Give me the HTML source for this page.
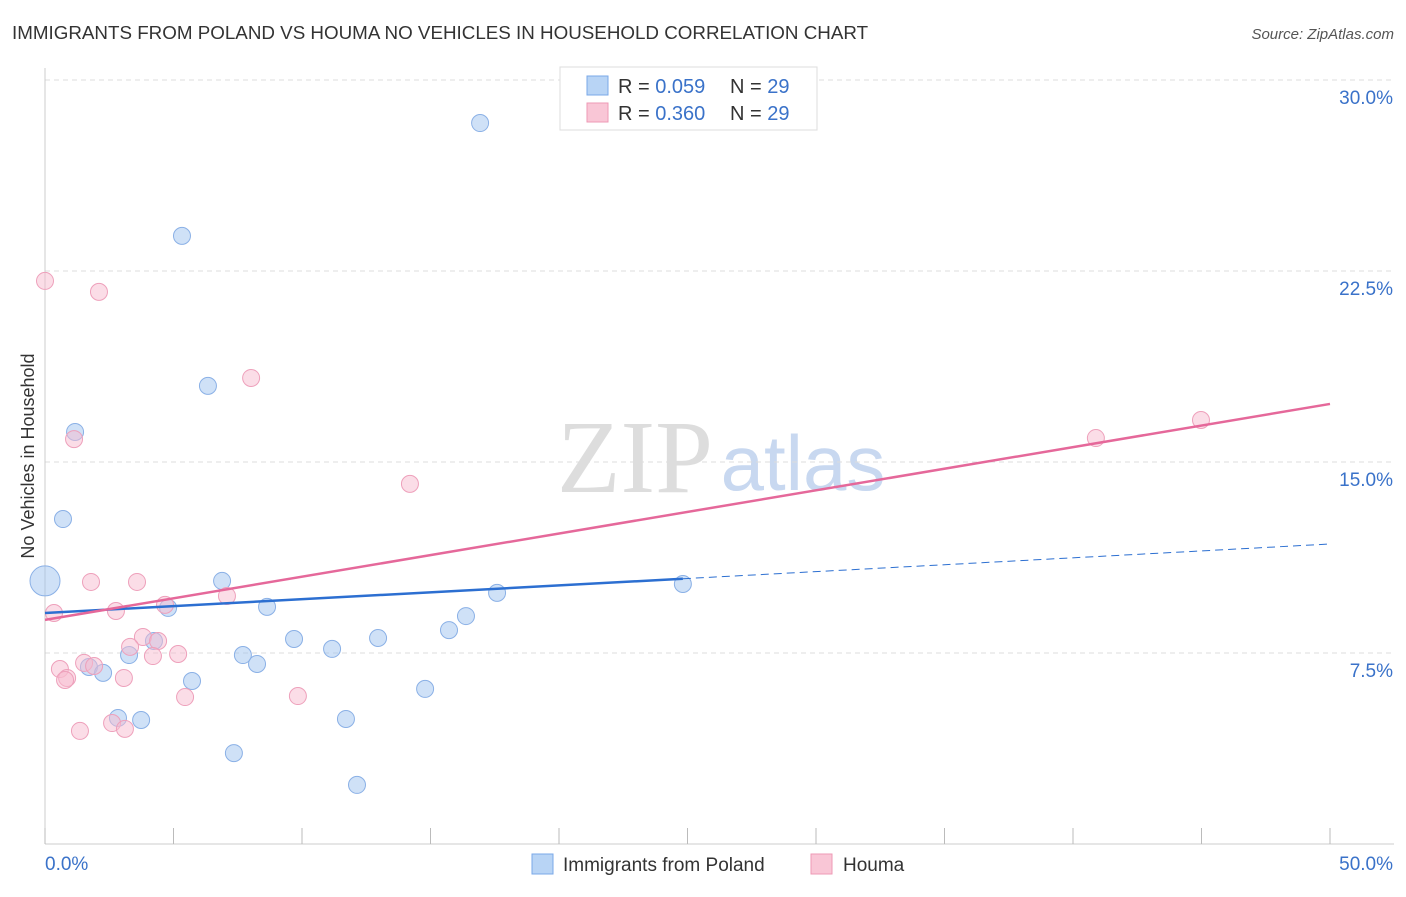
<!DOCTYPE html>
<html><head><meta charset="utf-8"><style>
body{margin:0;background:#fff;font-family:"Liberation Sans",sans-serif}
</style></head><body>
<svg id="c" width="1406" height="892" xmlns="http://www.w3.org/2000/svg" style="font-family:'Liberation Sans',sans-serif">
<text x="12" y="39" font-size="18.8" fill="#333">IMMIGRANTS FROM POLAND VS HOUMA NO VEHICLES IN HOUSEHOLD CORRELATION CHART</text>
<text x="1394" y="39" font-size="15" fill="#555" text-anchor="end" font-style="italic">Source: ZipAtlas.com</text>
<text x="34" y="456" font-size="18" fill="#333" text-anchor="middle" transform="rotate(-90 34 456)">No Vehicles in Household</text>
<g><text x="635" y="492" font-size="104" fill="#ddd" text-anchor="middle" font-family="'Liberation Serif',serif">ZIP</text><text x="803" y="490" font-size="78" fill="#c8d8f0" text-anchor="middle">atlas</text></g>
<g id="grid"></g><g id="marks"></g>
<g>
<rect x="560" y="67" width="257" height="63" fill="#fff" stroke="#ddd"/>
<rect x="587" y="76" width="21" height="19" fill="#b8d4f5" stroke="#7aa8e8"/>
<rect x="587" y="103" width="21" height="19" fill="#f9c6d6" stroke="#ee99b5"/>
<text x="618" y="93" font-size="20" fill="#333">R = <tspan fill="#3a72c9">0.059</tspan></text>
<text x="730" y="93" font-size="20" fill="#333">N = <tspan fill="#3a72c9">29</tspan></text>
<text x="618" y="120" font-size="20" fill="#333">R = <tspan fill="#3a72c9">0.360</tspan></text>
<text x="730" y="120" font-size="20" fill="#333">N = <tspan fill="#3a72c9">29</tspan></text>
</g>
<g>
<rect x="532" y="854" width="21" height="20" fill="#b8d4f5" stroke="#7aa8e8"/>
<text x="563" y="871" font-size="19" fill="#333">Immigrants from Poland</text>
<rect x="811" y="854" width="21" height="20" fill="#f9c6d6" stroke="#ee99b5"/>
<text x="843" y="871" font-size="19" fill="#333">Houma</text>
</g>
</svg>
<script>
const yTicks=[7.5,15,22.5,30];
const yTickLabels=["7.5%","15.0%","22.5%","30.0%"];
const blueX=[16.93,5.33,6.34,1.17,0.70,0,6.89,4.79,8.64,17.59,24.82,16.38,15.72,4.24,9.69,12.96,11.17,3.27,7.70,8.25,1.71,2.26,5.72,14.79,2.84,3.74,11.71,7.35,12.14];
const blueY=[28.31,23.88,17.99,16.18,12.76,10.33,10.33,9.27,9.31,9.86,10.21,8.95,8.40,7.97,8.05,8.09,7.66,7.42,7.42,7.07,6.95,6.72,6.40,6.09,4.95,4.87,4.91,3.57,2.32];
const pinkX=[0,2.10,8.02,1.13,14.20,40.89,44.98,1.79,3.58,0.35,7.08,2.76,4.67,3.81,4.40,3.31,4.20,5.18,0.58,1.52,1.91,0.86,0.78,3.07,9.84,5.45,1.36,2.61,3.11];
const pinkY=[22.11,21.68,18.30,15.90,14.14,15.94,16.65,10.29,10.29,9.07,9.74,9.15,9.39,8.13,7.97,7.74,7.38,7.46,6.87,7.11,6.99,6.52,6.44,6.52,5.81,5.77,4.44,4.75,4.52];
const blueTrend=[9.07,11.78];const blueSolidEnd=24.82;
const pinkTrend=[8.80,17.28];
const xs=v=>45+v/50*1285, ys=v=>844-v/7.5*191;
const NS="http://www.w3.org/2000/svg";
function mk(t,a,p){const e=document.createElementNS(NS,t);for(const k in a)e.setAttribute(k,a[k]);p.appendChild(e);return e;}
const g=document.getElementById('grid'),m=document.getElementById('marks');
yTicks.forEach((t,i)=>{
 const l=mk('line',{x1:45,x2:1394,y1:ys(t),y2:ys(t),stroke:'#ddd','stroke-dasharray':'5,4'},g);
 
 
 const tx=mk('text',{x:1393,y:ys(t)+24,'font-size':19,fill:'#3a72c9','text-anchor':'end'},g);tx.textContent=yTickLabels[i];
 
 
});
const ax=mk('line',{x1:45,x2:1394,y1:844,y2:844,stroke:'#ccc'},g);


const ay=mk('line',{x1:45,x2:45,y1:68,y2:844,stroke:'#ccc'},g);


for(let v=0;v<=50;v+=5){const t=mk('line',{x1:xs(v),x2:xs(v),y1:828,y2:844,stroke:'#bbb'},g);
 
 }
[["0.0%",45,'start'],["50.0%",1393,'end']].forEach(([s,x,a])=>{const t=mk('text',{x:x,y:870,'font-size':19,fill:'#3a72c9','text-anchor':a},g);t.textContent=s;
 
 });
blueX.forEach((x,i)=>{const c=mk('circle',{cx:xs(x),cy:ys(blueY[i]),r:i==5?15:8.5,fill:'rgba(160,196,240,0.5)',stroke:'#8ab0e6','stroke-width':1},m);
 
 });
pinkX.forEach((x,i)=>{const c=mk('circle',{cx:xs(x),cy:ys(pinkY[i]),r:8.5,fill:'rgba(248,188,208,0.5)',stroke:'#eea0bb','stroke-width':1},m);
 
 });
const bAt=v=>blueTrend[0]+(blueTrend[1]-blueTrend[0])*v/50;
const b1=mk('line',{x1:xs(0),y1:ys(bAt(0)),x2:xs(blueSolidEnd),y2:ys(bAt(blueSolidEnd)),stroke:'#2c6fd1','stroke-width':2.5},m);


const b2=mk('line',{x1:xs(blueSolidEnd),y1:ys(bAt(blueSolidEnd)),x2:xs(50),y2:ys(bAt(50)),stroke:'#2c6fd1','stroke-width':1,'stroke-dasharray':'8,5'},m);


const p1=mk('line',{x1:xs(0),y1:ys(pinkTrend[0]),x2:xs(50),y2:ys(pinkTrend[1]),stroke:'#e5689a','stroke-width':2.5},m);


</script>
</body></html>
